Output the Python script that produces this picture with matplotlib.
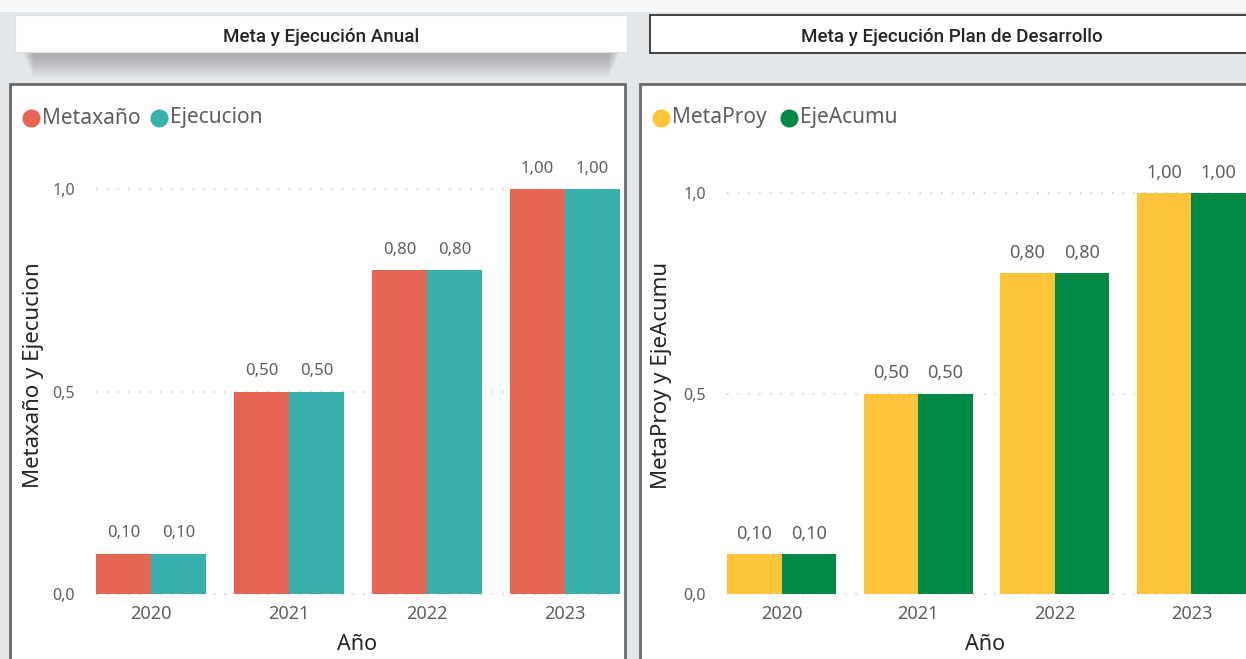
import matplotlib
matplotlib.use("Agg")
import matplotlib.pyplot as plt
import numpy as np
from matplotlib.patches import Rectangle
from matplotlib.lines import Line2D

plt.rcParams['font.family'] = ['Noto Sans', 'DejaVu Sans']

# Data
years = ['2020', '2021', '2022', '2023']
metaxano = [0.10, 0.50, 0.80, 1.00]
ejecucion = [0.10, 0.50, 0.80, 1.00]
metaproy = [0.10, 0.50, 0.80, 1.00]
ejeacumu = [0.10, 0.50, 0.80, 1.00]

W, H = 1246, 659
fig = plt.figure(figsize=(W / 100, H / 100), dpi=100)
fig.patch.set_facecolor('#e4e7ea')

def fx(px):
    return px / W

def fy(py):
    return 1 - py / H

# top white strip of the background
fig.add_artist(Rectangle((0, fy(12)), 1, 12 / H, transform=fig.transFigure,
                         facecolor='#f7f8f9', edgecolor='none', zorder=0))

# Title boxes (left one with a soft shadow)
for i in range(12):
    fig.add_artist(Rectangle((fx(22 + i), fy(52 + 2.3 * i)), fx(598 - 2 * i), 2.3 * i / H + 30 / H,
                             transform=fig.transFigure, facecolor='#6a6a6a', alpha=0.05,
                             edgecolor='none', zorder=1))
fig.add_artist(Rectangle((fx(15), fy(52)), fx(612), 37 / H, transform=fig.transFigure,
                         facecolor='white', edgecolor='#e0e0e0', lw=0.8, zorder=2))
fig.add_artist(Rectangle((fx(650), fy(53)), fx(600), 38 / H, transform=fig.transFigure,
                         facecolor='white', edgecolor='#222222', lw=1.2, zorder=2))
fig.text(fx(321), fy(37), 'Meta y Ejecución Anual', ha='center', va='center',
         fontsize=13.5, family=['Roboto', 'DejaVu Sans'], fontweight='medium',
         color='#252423', zorder=3)
fig.text(fx(952), fy(37), 'Meta y Ejecución Plan de Desarrollo', ha='center', va='center',
         fontsize=13.5, family=['Roboto', 'DejaVu Sans'], fontweight='medium',
         color='#252423', zorder=3)

# Panel frames
fig.add_artist(Rectangle((fx(10), fy(670)), fx(615), 586 / H, transform=fig.transFigure,
                         facecolor='white', edgecolor='#6b6b6b', lw=2, zorder=1))
fig.add_artist(Rectangle((fx(640), fy(670)), fx(620), 586 / H, transform=fig.transFigure,
                         facecolor='white', edgecolor='#6b6b6b', lw=2, zorder=1))

text_gray = '#605e5c'
dark = '#252423'


def draw_panel(rect, s1, s2, c1, c2, names, ylabel, leg_x, ylab_x, xlab_x, lab_size):
    ax = fig.add_axes(rect)
    ax.set_zorder(3)
    ax.patch.set_visible(False)
    x = np.arange(len(years))
    w = 0.4
    b1 = ax.bar(x - w / 2, s1, w, color=c1, zorder=2)
    b2 = ax.bar(x + w / 2, s2, w, color=c2, zorder=2)
    for bars, vals in ((b1, s1), (b2, s2)):
        for b, v in zip(bars, vals):
            ax.annotate(f'{v:.2f}'.replace('.', ','), (b.get_x() + b.get_width() / 2, v),
                        xytext=(0, 14.5), textcoords='offset points', ha='center',
                        va='center', fontsize=lab_size, color=text_gray, annotation_clip=False)
    ax.set_xlim(-0.4, 3.4)
    ax.set_ylim(0, 1.0)
    ax.set_yticks([0, 0.5, 1.0])
    ax.set_yticklabels(['0,0', '0,5', '1,0'])
    ax.set_xticks(x)
    ax.set_xticklabels(years)
    ax.tick_params(axis='y', length=0, pad=15, labelsize=11.5, labelcolor=text_gray)
    ax.tick_params(axis='x', length=0, pad=8, labelsize=13, labelcolor=text_gray)
    for sp in ax.spines.values():
        sp.set_visible(False)
    for yv in [0, 0.5, 1.0]:
        ax.axhline(yv, color='#c4c4c4', lw=1.1, ls=(0, (1, 6)), zorder=1, clip_on=False)
    # legend
    lx = leg_x
    for name, col, off in ((names[0], c1, 0), (names[1], c2, 128)):
        fig.add_artist(Line2D([fx(lx + off)], [fy(118)], marker='o', markersize=12,
                              color=col, transform=fig.transFigure, zorder=4))
        fig.text(fx(lx + off + 11), fy(118), name, ha='left', va='center', fontsize=15,
                 color=text_gray, zorder=4)
    fig.text(fx(ylab_x), fy(375), ylabel, rotation=90, ha='center', va='center',
             fontsize=16, color=dark, zorder=4)
    fig.text(fx(xlab_x), fy(645), 'Año', ha='center', va='center', fontsize=15.5,
             color=dark, zorder=4)
    return ax


draw_panel([fx(96), fy(594), fx(524), 405 / H], metaxano, ejecucion, '#e66553', '#38b1ae',
           ['Metaxaño', 'Ejecucion'], 'Metaxaño y Ejecucion', 31, 34, 357, 12)
draw_panel([fx(727), fy(594), fx(519), 401 / H], metaproy, ejeacumu, '#fec43a', '#008845',
           ['MetaProy', 'EjeAcumu'], 'MetaProy y EjeAcumu', 661, 662, 985, 13)

fig.savefig('out.png', dpi=100, facecolor=fig.get_facecolor())
